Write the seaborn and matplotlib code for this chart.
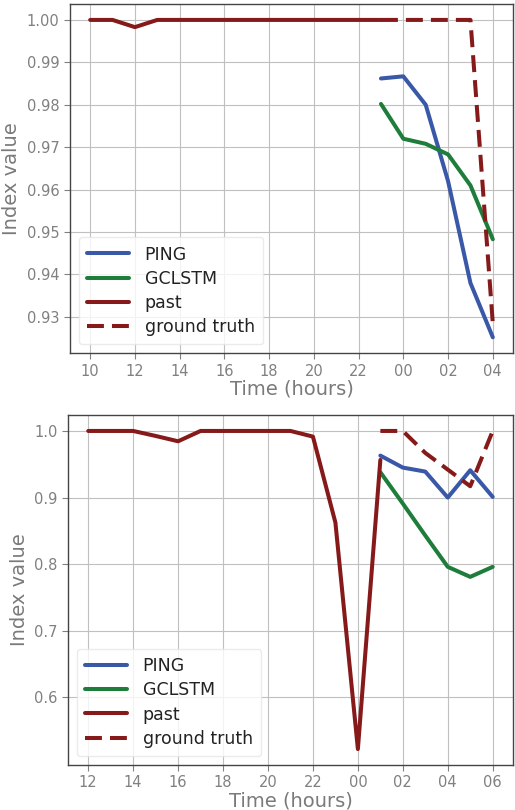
import matplotlib
matplotlib.use("Agg")
import matplotlib.pyplot as plt
import seaborn as sns
import numpy as np

# top panel
hours_top = ["10", "11", "12", "13", "14", "15", "16", "17", "18", "19", "20",
             "21", "22", "23", "00", "01", "02", "03", "04"]
past_top = [1.0, 1.0, 0.9983, 1.0, 1.0, 1.0, 1.0, 1.0, 1.0, 1.0, 1.0,
            1.0, 1.0, 1.0]
truth_top = [1.0, 1.0, 1.0, 1.0, 1.0, 0.9285]
ping_top = [0.9862, 0.9867, 0.9800, 0.9620, 0.9380, 0.9252]
gclstm_top = [0.9802, 0.9720, 0.9708, 0.9683, 0.9610, 0.9483]

# bottom panel
hours_bot = ["12", "13", "14", "15", "16", "17", "18", "19", "20", "21", "22",
             "23", "00", "01", "02", "03", "04", "05", "06"]
past_bot = [1.0, 1.0, 1.0, 0.9925, 0.9845, 1.0, 1.0, 1.0, 1.0, 1.0, 0.9915,
            0.8625, 0.5225, 0.9565]
truth_bot = [1.0, 1.0, 0.967, 0.942, 0.917, 1.0]
ping_bot = [0.963, 0.945, 0.939, 0.900, 0.941, 0.901]
gclstm_bot = [0.938, 0.891, 0.843, 0.796, 0.781, 0.796]

BLUE = "#3a58a8"
GREEN = "#1f7d3c"
RED = "#861a1a"

sns.set_style("whitegrid", {
    "axes.edgecolor": "#444444",
    "grid.color": "#c0c0c0",
    "xtick.bottom": True,
    "ytick.left": True,
})
plt.rcParams["font.family"] = ["DejaVu Sans"]


def panel(ax, hours, past, truth, ping, gclstm, yticks, fmt):
    x = np.arange(len(hours))
    n_past = len(past)
    fx = x[len(hours) - len(ping):]
    lw = 2.9
    sns.lineplot(x=fx, y=ping, ax=ax, color=BLUE, lw=lw, label="PING")
    sns.lineplot(x=fx, y=gclstm, ax=ax, color=GREEN, lw=lw, label="GCLSTM")
    sns.lineplot(x=x[:n_past], y=past, ax=ax, color=RED, lw=lw, label="past")
    sns.lineplot(x=x[len(hours) - len(truth):], y=truth, ax=ax, color=RED,
                 lw=lw, ls=(0, (4.2, 2.0)), label="ground truth")
    ax.set_xticks(x[::2])
    ax.set_xticklabels(hours[::2])
    ax.set_yticks(yticks)
    ax.set_yticklabels([fmt.format(v) for v in yticks])
    ax.tick_params(colors="#808080", labelsize=10.5, length=4, width=0.8,
                   labelcolor="#808080")
    ax.set_xlabel("Time (hours)", fontsize=14, color="#7a7a7a", labelpad=1)
    ax.set_ylabel("Index value", fontsize=14, color="#7a7a7a", labelpad=4)
    for s in ax.spines.values():
        s.set_linewidth(1.0)
    leg = ax.legend(loc="lower left", fontsize=12.5, handlelength=2.4,
                    frameon=True, framealpha=0.8, borderpad=0.5,
                    labelspacing=0.35, handletextpad=0.9)
    leg.get_frame().set_edgecolor("#e6e6e6")
    for t in leg.get_texts():
        t.set_color("#222222")


fig = plt.figure(figsize=(5.15, 8.1), dpi=100)
ax1 = fig.add_axes([0.136, 0.564, 0.86, 0.431])
ax2 = fig.add_axes([0.132, 0.0556, 0.864, 0.432])

panel(ax1, hours_top, past_top, truth_top, ping_top, gclstm_top,
      [0.93, 0.94, 0.95, 0.96, 0.97, 0.98, 0.99, 1.00], "{:.2f}")
panel(ax2, hours_bot, past_bot, truth_bot, ping_bot, gclstm_bot,
      [0.6, 0.7, 0.8, 0.9, 1.0], "{:.1f}")

fig.savefig("out.png", dpi=100)
